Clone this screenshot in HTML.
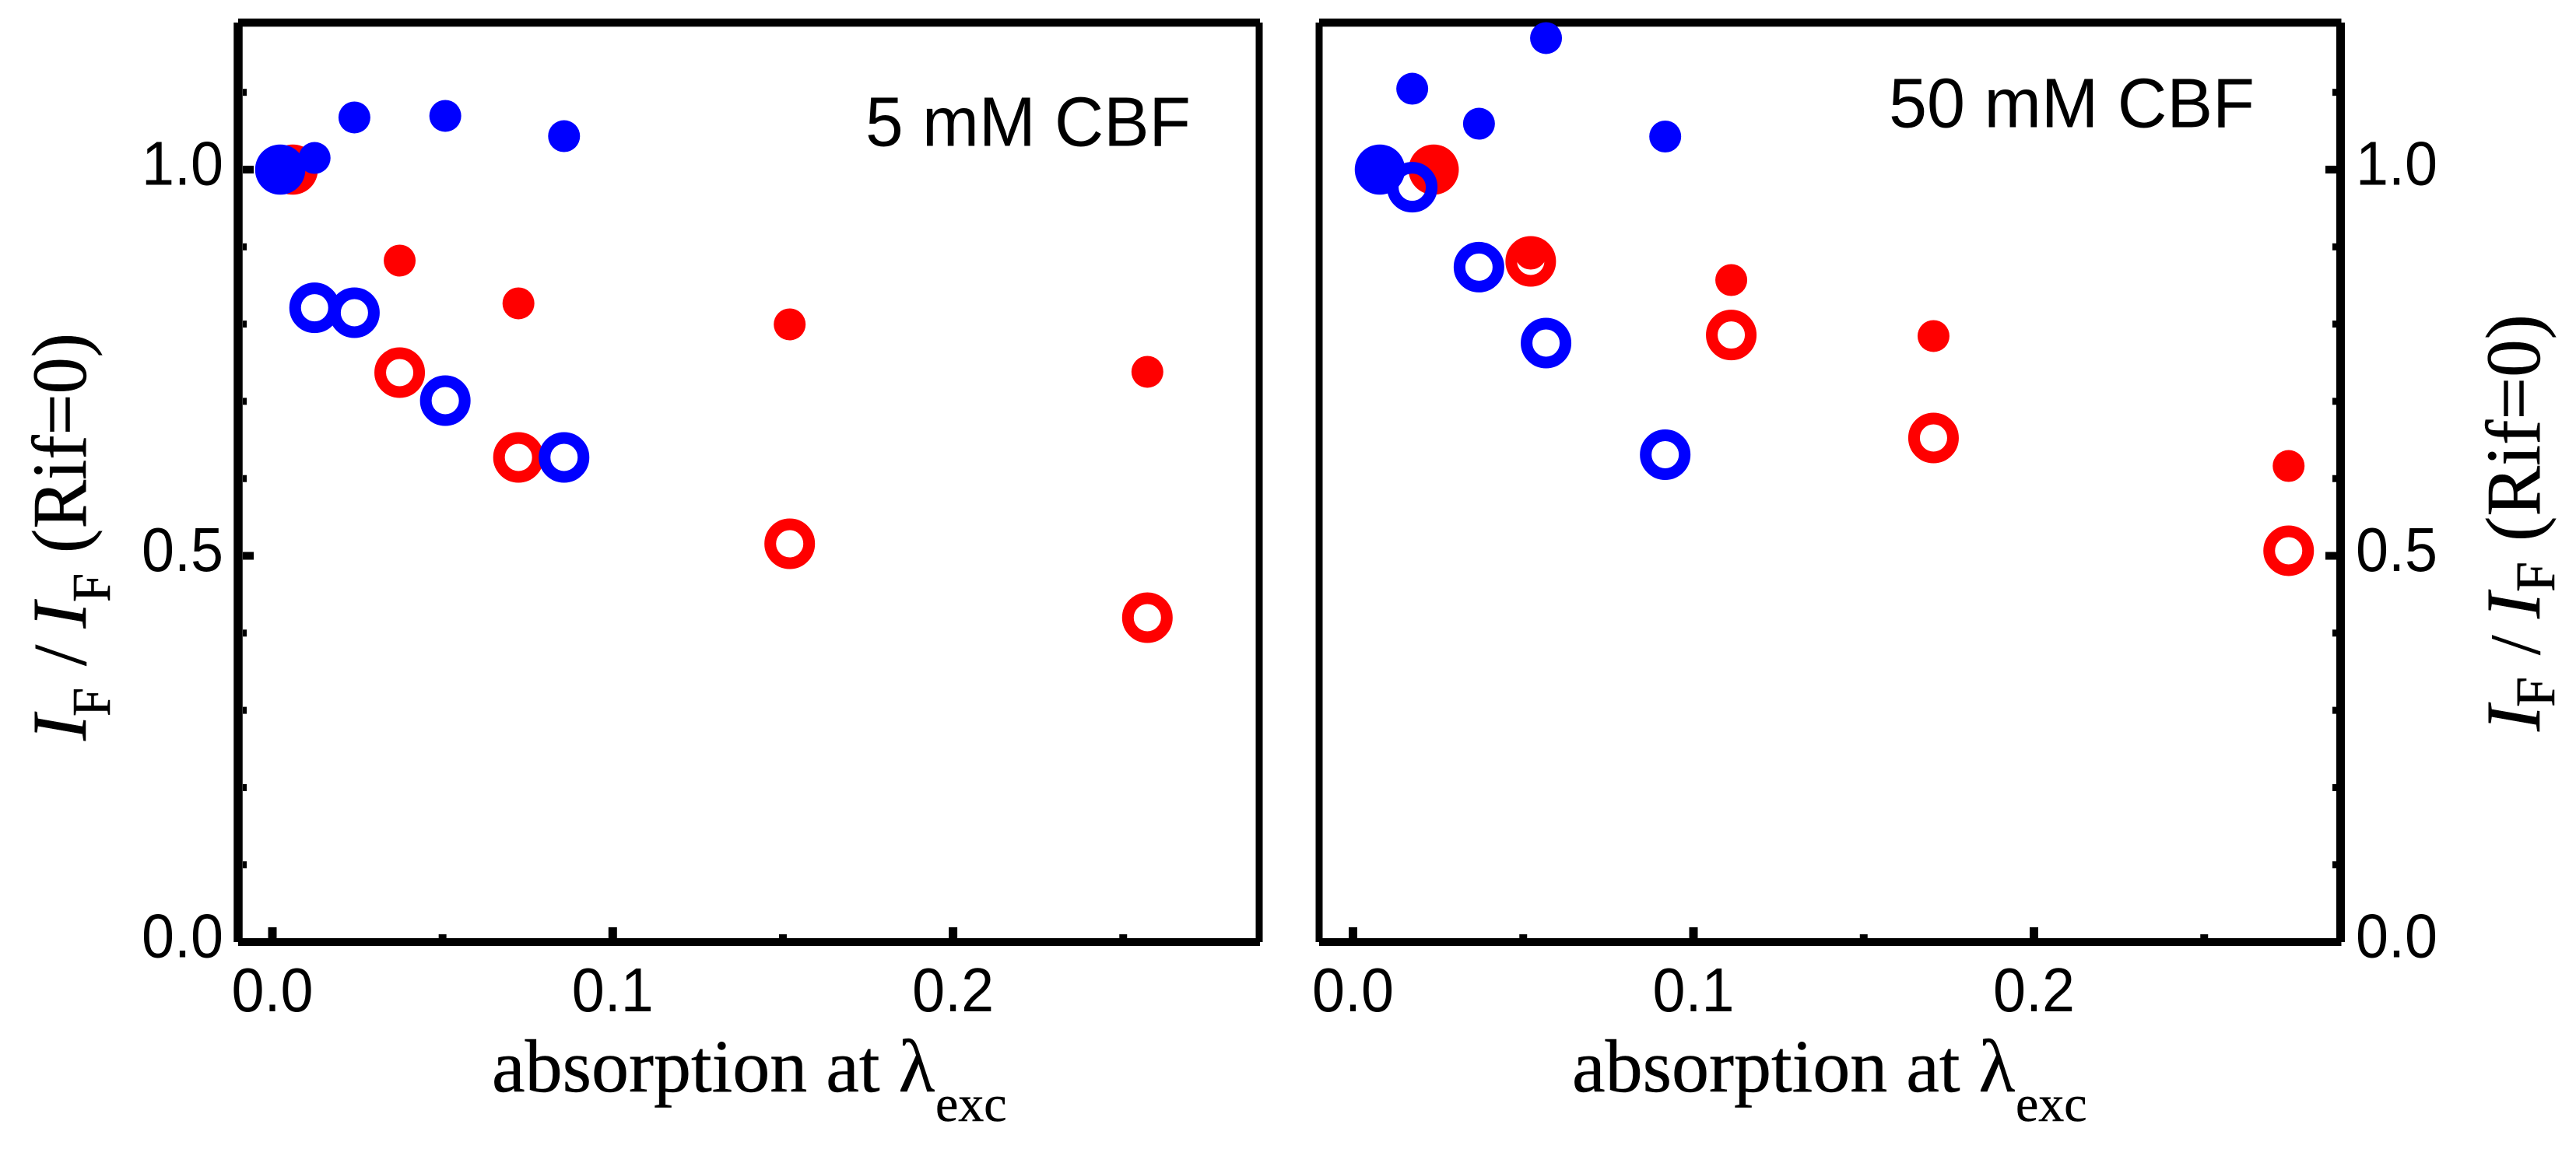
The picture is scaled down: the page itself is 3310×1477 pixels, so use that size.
<!DOCTYPE html>
<html lang="en">
<head>
<meta charset="utf-8">
<title>Fluorescence ratio vs absorption</title>
<style>
html,body{margin:0;padding:0;background:#fff;width:3310px;height:1477px;overflow:hidden}
svg{display:block}
.sans{font-family:"Liberation Sans",sans-serif;fill:#000}
.serif{font-family:"Liberation Serif",serif;fill:#000;stroke:#000;stroke-width:.5}
</style>
</head>
<body>
<svg id="chart" xmlns="http://www.w3.org/2000/svg" width="3310" height="1477" viewBox="0 0 3310 1477">
  <rect x="0" y="0" width="3310" height="1477" fill="#fff"/>
  <text class="sans" x="1112" y="187.5" font-size="90" textLength="418" lengthAdjust="spacingAndGlyphs">5 mM CBF</text>
  <text class="sans" x="2427" y="163.5" font-size="90" textLength="470" lengthAdjust="spacingAndGlyphs">50 mM CBF</text>

  <g>
    <text class="serif" x="632" y="1403" font-size="96">absorption at λ</text>
    <text class="serif" x="1202" y="1441" font-size="66">exc</text>
  </g>
  <g>
    <text class="serif" x="2020" y="1403" font-size="96">absorption at λ</text>
    <text class="serif" x="2590" y="1441" font-size="66">exc</text>
  </g>

  <g>
    <text class="serif" transform="translate(110 952) rotate(-90)" font-size="100" font-style="italic">I</text>
    <text class="serif" transform="translate(141 921) rotate(-90)" font-size="70" textLength="37" lengthAdjust="spacingAndGlyphs">F</text>
    <text class="serif" transform="translate(110 856) rotate(-90)" font-size="98">/</text>
    <text class="serif" transform="translate(110 807.5) rotate(-90)" font-size="100" font-style="italic">I</text>
    <text class="serif" transform="translate(141 774) rotate(-90)" font-size="70" textLength="37" lengthAdjust="spacingAndGlyphs">F</text>
    <text class="serif" transform="translate(110 711) rotate(-90)" font-size="100" textLength="283" lengthAdjust="spacingAndGlyphs">(Rif=0)</text>
  </g>
  <g>
    <text class="serif" transform="translate(3262.8 940) rotate(-90)" font-size="100" font-style="italic">I</text>
    <text class="serif" transform="translate(3282 909) rotate(-90)" font-size="72" textLength="39" lengthAdjust="spacingAndGlyphs">F</text>
    <text class="serif" transform="translate(3262.8 842) rotate(-90)" font-size="92">/</text>
    <text class="serif" transform="translate(3262.8 795) rotate(-90)" font-size="100" font-style="italic">I</text>
    <text class="serif" transform="translate(3282 761) rotate(-90)" font-size="72" textLength="39" lengthAdjust="spacingAndGlyphs">F</text>
    <text class="serif" transform="translate(3262.8 696) rotate(-90)" font-size="100" textLength="292" lengthAdjust="spacingAndGlyphs">(Rif=0)</text>
  </g>
</svg>
<script>
// Tick values and labels
const xMajorTicks = [0, 0.1, 0.2];
const xMinorTicks = [0.05, 0.15, 0.25];
const yMajorTicks = [0, 0.5, 1];
const yMinorTicks = [0.1, 0.2, 0.3, 0.4, 0.6, 0.7, 0.8, 0.9, 1.1];
const xTickLabels = ['0.0', '0.1', '0.2'];
const yTickLabels = ['0.0', '0.5', '1.0'];

// 5 mM CBF panel
const a_blueLargeX = [0.0023];
const a_blueLargeY = [1.0];
const a_redLargeX = [0.006];
const a_redLargeY = [1.0];
const a_blueFilledX = [0.0124, 0.0241, 0.0508, 0.0857];
const a_blueFilledY = [1.0151, 1.0675, 1.0695, 1.0433];
const a_blueHollowX = [0.0124, 0.0241, 0.0508, 0.0857];
const a_blueHollowY = [0.8211, 0.8147, 0.7009, 0.6274];
const a_redFilledX = [0.0374, 0.0723, 0.152, 0.2571];
const a_redFilledY = [0.8822, 0.8268, 0.7996, 0.7382];
const a_redHollowX = [0.0374, 0.0723, 0.152, 0.2571];
const a_redHollowY = [0.7372, 0.6274, 0.5156, 0.4199];

// 50 mM CBF panel
const b_blueLargeX = [0.0079];
const b_blueLargeY = [1.0];
const b_redLargeX = [0.0237];
const b_redLargeY = [1.0];
const b_blueFilledX = [0.0174, 0.037, 0.0567, 0.0917];
const b_blueFilledY = [1.1047, 1.0594, 1.1702, 1.0428];
const b_blueHollowX = [0.0174, 0.037, 0.0567, 0.0917];
const b_blueHollowY = [0.9772, 0.8737, 0.7754, 0.6309];
const b_redFilledX = [0.0522, 0.1111, 0.1705, 0.2748];
const b_redFilledY = [0.8912, 0.857, 0.7845, 0.6163];
const b_redHollowX = [0.0522, 0.1111, 0.1705, 0.2748];
const b_redHollowY = [0.8812, 0.7859, 0.6526, 0.5066];

const BLUE = '#0000ff';
const RED = '#ff0000';
const svg = document.getElementById('chart');
const NS = 'http://www.w3.org/2000/svg';

function xA(v) { return 350 + 4373 * v; }
function xB(v) { return 1738.5 + 4375 * v; }
function yS(v) { return 1211 - 993 * v; }

function drawRect(x, y, w, h, name) {
  const el = document.createElementNS(NS, 'rect');
  el.setAttribute('x', x);
  el.setAttribute('y', y);
  el.setAttribute('width', w);
  el.setAttribute('height', h);
  el.setAttribute('fill', '#000');
  
  
  svg.appendChild(el);
}

function drawLabel(x, y, str, anchor, name) {
  const el = document.createElementNS(NS, 'text');
  el.setAttribute('class', 'sans');
  el.setAttribute('x', x);
  el.setAttribute('y', y);
  el.setAttribute('font-size', '80');
  el.setAttribute('textLength', '105');
  el.setAttribute('lengthAdjust', 'spacingAndGlyphs');
  el.setAttribute('text-anchor', anchor);
  
  
  el.textContent = str;
  svg.appendChild(el);
}

function drawMarkers(xs, ys, xFn, color, kind, name) {
  xs.forEach(function (xv, i) {
    const el = document.createElementNS(NS, 'circle');
    el.setAttribute('cx', xFn(xv));
    el.setAttribute('cy', yS(ys[i]));
    if (kind === 'hollow') {
      el.setAttribute('r', 25);
      el.setAttribute('fill', 'none');
      el.setAttribute('stroke', color);
      el.setAttribute('stroke-width', 15);
    } else {
      el.setAttribute('r', kind === 'large' ? 32.3 : 20.5);
      el.setAttribute('fill', color);
    }
    
    
    svg.appendChild(el);
  });
}

function drawFrame(left, right, leftW, rightW, side) {
  drawRect(left, 23.8, right - left + 1, 10.5, side + '-frame-top');
  drawRect(left, 1206, right - left + 1, 10, side + '-frame-bottom');
  drawRect(left - leftW / 2, 29, leftW, 1182, side + '-frame-left');
  drawRect(right - rightW / 2, 29, rightW, 1182, side + '-frame-right');
}

function drawXTicks(xFn, side) {
  xMajorTicks.forEach(function (v, i) {
    drawRect(xFn(v) - 5.5, 1192, 11, 15, side + '-x-major-tick');
    drawLabel(xFn(v), 1300, xTickLabels[i], 'middle', side + '-x-tick-label');
  });
  xMinorTicks.forEach(function (v) {
    drawRect(xFn(v) - 5, 1201, 10, 6, side + '-x-minor-tick');
  });
}

function drawYTicks(edge, dir, labelX, anchor, side) {
  yMajorTicks.forEach(function (v, i) {
    if (v > 0) {
      drawRect(dir > 0 ? edge : edge - 14, yS(v) - 5, 14, 10, side + '-y-major-tick');
    }
    drawLabel(labelX, yS(v) + 19.5, yTickLabels[i], anchor, side + '-y-tick-label');
  });
  yMinorTicks.forEach(function (v) {
    drawRect(dir > 0 ? edge : edge - 5, yS(v) - 4.5, 5, 9, side + '-y-minor-tick');
  });
}

drawFrame(306, 1618, 11.5, 9, 'left');
drawFrame(1695, 3007.5, 9, 11, 'right');
drawXTicks(xA, 'left');
drawXTicks(xB, 'right');
drawYTicks(312, 1, 287, 'end', 'left');
drawYTicks(3002, -1, 3027, 'start', 'right');

drawMarkers(a_redLargeX, a_redLargeY, xA, RED, 'large', 'red-reference-point-5mm');
drawMarkers(a_blueLargeX, a_blueLargeY, xA, BLUE, 'large', 'blue-reference-point-5mm');
drawMarkers(a_redFilledX, a_redFilledY, xA, RED, 'filled', 'red-filled-point-5mm');
drawMarkers(a_blueFilledX, a_blueFilledY, xA, BLUE, 'filled', 'blue-filled-point-5mm');
drawMarkers(a_redHollowX, a_redHollowY, xA, RED, 'hollow', 'red-hollow-point-5mm');
drawMarkers(a_blueHollowX, a_blueHollowY, xA, BLUE, 'hollow', 'blue-hollow-point-5mm');

drawMarkers(b_redLargeX, b_redLargeY, xB, RED, 'large', 'red-reference-point-50mm');
drawMarkers(b_blueLargeX, b_blueLargeY, xB, BLUE, 'large', 'blue-reference-point-50mm');
drawMarkers(b_redFilledX, b_redFilledY, xB, RED, 'filled', 'red-filled-point-50mm');
drawMarkers(b_blueFilledX, b_blueFilledY, xB, BLUE, 'filled', 'blue-filled-point-50mm');
drawMarkers(b_redHollowX, b_redHollowY, xB, RED, 'hollow', 'red-hollow-point-50mm');
drawMarkers(b_blueHollowX, b_blueHollowY, xB, BLUE, 'hollow', 'blue-hollow-point-50mm');
</script>
</body>
</html>
